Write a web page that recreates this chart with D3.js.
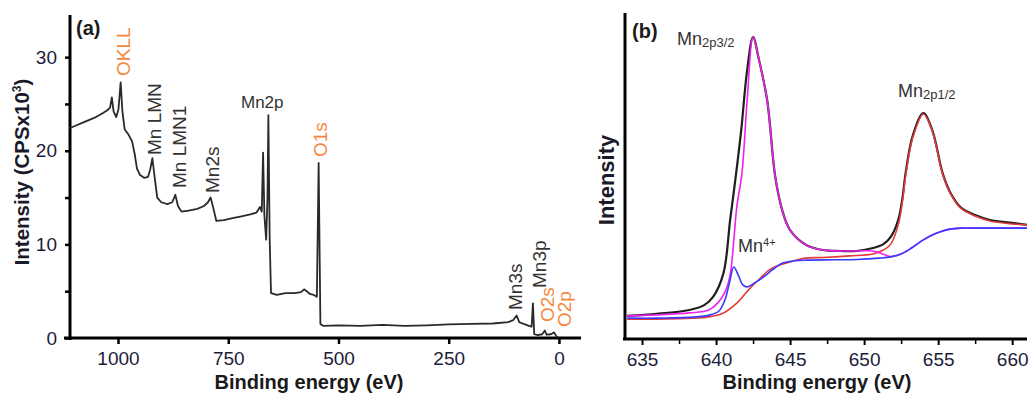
<!DOCTYPE html>
<html>
<head>
<meta charset="utf-8">
<script src="https://cdn.jsdelivr.net/npm/d3@7"></script>
<style>
  body { margin: 0; background: #fff; }
  svg { display: block; font-family: Arial, "Liberation Sans", sans-serif; }
  .axis path, .axis line { stroke: #000; }
  .axis text { fill: #1c1c3a; font-size: 19px; }
</style>
</head>
<body>
<div id="chart"></div>
<script>
// (a) survey spectrum: [binding energy eV, counts x10^3]
const survey = [
  [1110, 22.4], [1095, 22.7], [1080, 23.0], [1065, 23.3], [1050, 23.6], [1035, 24.0], [1025, 24.3],
  [1018, 24.6], [1014, 25.7], [1010, 24.2], [1004, 23.6], [999, 24.4], [994, 27.3], [990, 24.2],
  [985, 22.3], [976, 21.7], [968, 21.0], [962, 19.6], [957, 18.1], [950, 17.4], [940, 17.1],
  [932, 17.2], [927, 18.0], [922, 19.2], [917, 17.2], [911, 15.0], [902, 14.5], [888, 14.3],
  [877, 14.5], [870, 15.3], [864, 14.1], [856, 13.5], [840, 13.6], [820, 13.8], [805, 14.1],
  [796, 14.5], [790, 15.0], [784, 13.9], [777, 12.5], [760, 12.6], [740, 12.8], [720, 13.0],
  [700, 13.2], [686, 13.4], [678, 14.0], [674, 13.5], [671, 19.8], [668, 13.1], [664, 10.5],
  [661, 15.0], [659, 23.8], [656, 10.5], [653, 4.8], [640, 4.6], [620, 4.8], [600, 4.8],
  [585, 4.9], [578, 5.2], [572, 5.0], [565, 4.7], [556, 4.6], [549, 4.4], [545, 18.7],
  [541, 1.5], [535, 1.3], [500, 1.35], [450, 1.3], [400, 1.4], [350, 1.3], [300, 1.35],
  [250, 1.45], [200, 1.5], [150, 1.55], [115, 1.7], [104, 1.9], [96, 2.4], [90, 1.7],
  [80, 1.5], [68, 1.3], [62, 1.2], [59, 3.7], [56, 0.4], [48, 0.3], [38, 0.4], [32, 0.8],
  [28, 0.35], [18, 0.4], [11, 0.6], [6, 0.2], [2, 0.05]
];
const surveyXTicks = [1000, 750, 500, 250, 0];
const surveyYTicks = [0, 5, 10, 15, 20, 25, 30];

// (b) Mn 2p high resolution: [binding energy eV, intensity a.u.]
const envelope = [
  [634.0, 7.1], [636.0, 7.7], [638.2, 8.9], [639.2, 10.4], [639.8, 12.9], [640.5, 20.2],
  [640.95, 36.5], [641.3, 48.8], [641.7, 64.1], [642.1, 82.5], [642.5, 92.6], [642.9, 85.6],
  [643.45, 73.3], [644.0, 49.7], [644.5, 39.0], [645.0, 33.4], [646.1, 28.8], [647.2, 27.3],
  [648.4, 27.0], [649.5, 27.0], [650.6, 27.9], [651.3, 29.1], [651.8, 31.3], [652.3, 36.5],
  [652.6, 43.6], [652.8, 50.9], [653.3, 62.6], [654.0, 69.3], [654.6, 64.1], [655.3, 50.9],
  [655.8, 45.1], [656.5, 40.5], [657.5, 38.0], [658.5, 36.5], [660.0, 35.6], [661.0, 35.0]
];
const mn2p32 = [
  [634.0, 7.1], [636.0, 7.4], [638.2, 8.0], [639.5, 8.9], [640.1, 11.0], [640.6, 14.4],
  [640.95, 19.6], [641.2, 30.4], [641.4, 40.5], [641.75, 50.9], [642.1, 73.3], [642.5, 92.6],
  [642.9, 85.6], [643.45, 73.3], [644.0, 49.7], [644.5, 39.0], [645.0, 33.4], [646.1, 28.8],
  [647.2, 27.3], [648.4, 27.0], [649.5, 27.0], [650.6, 27.0], [651.3, 26.0], [651.8, 25.3],
  [652.5, 26.1], [653.2, 27.9], [654.0, 30.4], [654.6, 31.9], [655.1, 32.8], [655.8, 33.7],
  [656.5, 34.0], [658.0, 34.0], [661.0, 34.0]
];
const mn2p12 = [
  [634.0, 6.1], [636.0, 6.1], [638.5, 6.4], [639.4, 6.7], [640.5, 8.0], [641.4, 11.0],
  [642.3, 15.6], [643.0, 18.7], [643.6, 21.2], [644.3, 22.7], [645.0, 23.6], [646.0, 24.8],
  [647.2, 25.0], [649.0, 25.5], [650.6, 26.1], [651.3, 27.3], [651.8, 29.1], [652.3, 35.0],
  [652.6, 42.6], [652.8, 50.0], [653.3, 62.0], [654.0, 69.0], [654.6, 63.8], [655.3, 50.6],
  [655.8, 44.8], [656.5, 40.2], [657.5, 37.7], [658.5, 36.2], [660.0, 35.3], [661.0, 35.0]
];
const mn4 = [
  [634.0, 6.4], [636.0, 6.4], [638.5, 6.7], [639.6, 7.4], [640.2, 8.6], [640.6, 12.0],
  [640.9, 17.2], [641.2, 22.1], [641.5, 19.6], [641.8, 16.6], [642.1, 16.0], [642.6, 17.2],
  [643.2, 19.0], [643.8, 21.2], [644.5, 23.3], [645.3, 24.0], [646.1, 24.2], [648.0, 24.3],
  [649.5, 24.4], [651.0, 24.8], [651.8, 25.2], [652.5, 26.1], [653.2, 27.9], [654.0, 30.4],
  [654.6, 31.9], [655.1, 32.8], [655.8, 33.7], [656.5, 34.0], [658.0, 34.0], [661.0, 34.0]
];
const hrXTicks = [635, 640, 645, 650, 655, 660];
const hrXMinor = [637.5, 642.5, 647.5, 652.5, 657.5];

const width = 1035, height = 394;
const orange = "#f5883e", dark = "#333";

const svg = d3.select("#chart").append("svg")
              .attr("width", width)
              .attr("height", height);
svg.append("rect").attr("width", width).attr("height", height).attr("fill", "#fff");

// ---------- panel (a) ----------
const xA = d3.scaleLinear().domain([1110, -50]).range([69.5, 581]);
const yA = d3.scaleLinear().domain([0, 34.5]).range([338, 15]);

const axA = svg.append("g").attr("class", "axis")
               .attr("transform", "translate(0,338)")
               .call(d3.axisBottom(xA).tickValues(surveyXTicks).tickSize(6).tickSizeOuter(0)
                       .tickPadding(8).tickFormat(d3.format("d")));
axA.select(".domain").attr("stroke-width", 3).attr("d", "M64,0H581");
axA.selectAll(".tick line").attr("stroke-width", 2.5);

const ayA = svg.append("g").attr("class", "axis")
               .attr("transform", "translate(70,0)")
               .call(d3.axisLeft(yA).tickValues(surveyYTicks).tickSize(5).tickSizeOuter(0).tickPadding(8)
                       .tickFormat(d => d % 10 === 0 ? d : ""));
ayA.select(".domain").attr("stroke-width", 3).attr("d", "M0,15V340");
ayA.selectAll(".tick line").attr("stroke-width", 2.5);

const lineA = d3.line().x(d => xA(d[0])).y(d => yA(d[1])).curve(d3.curveLinear);
svg.append("path").datum(survey)
   .attr("d", lineA)
   .attr("fill", "none")
   .attr("stroke", "#2a2a2a")
   .attr("stroke-width", 1.8)
   .attr("stroke-linejoin", "round");

svg.append("text").attr("x", 309).attr("y", 389)
   .attr("text-anchor", "middle").attr("font-weight", "bold").attr("font-size", 20)
   .attr("fill", "#1a1a1a").text("Binding energy (eV)");

const ttlA = svg.append("text")
   .attr("transform", "translate(29,172) rotate(-90)")
   .attr("text-anchor", "middle").attr("font-weight", "bold").attr("font-size", 20.5)
   .attr("fill", "#1a1a2a");
ttlA.append("tspan").text("Intensity (CPSx10");
ttlA.append("tspan").attr("font-size", 12).attr("dy", -8).text("3");
ttlA.append("tspan").attr("dy", 8).text(")");

svg.append("text").attr("x", 76).attr("y", 35)
   .attr("font-weight", "bold").attr("font-size", 20).attr("fill", "#1a1a1a").text("(a)");

svg.append("text").attr("x", 241).attr("y", 108)
   .attr("font-size", 17).attr("fill", dark).text("Mn2p");

// rotated peak labels
const peakLabels = [
  ["OKLL", 130, 76, orange],
  ["Mn LMN", 161, 155, dark],
  ["Mn LMN1", 186, 188, dark],
  ["Mn2s", 219, 193, dark],
  ["O1s", 327, 157, orange],
  ["Mn3s", 522, 310, dark],
  ["Mn3p", 546, 288, dark],
  ["O2s", 554, 322, orange],
  ["O2p", 571, 327, orange]
];
svg.append("g").selectAll("text")
   .data(peakLabels)
   .join("text")
   .attr("transform", d => `translate(${d[1]},${d[2]}) rotate(-90)`)
   .attr("font-size", 19)
   .attr("fill", d => d[3])
   .text(d => d[0]);

// ---------- panel (b) ----------
const xB = d3.scaleLinear().domain([633.85, 661]).range([625, 1027]);
const yB = d3.scaleLinear().domain([0, 100]).range([339, 13]);

const axB = svg.append("g").attr("class", "axis")
               .attr("transform", "translate(0,339)")
               .call(d3.axisBottom(xB).tickValues(hrXTicks).tickSize(6).tickSizeOuter(0).tickPadding(8));
axB.select(".domain").attr("stroke-width", 3).attr("d", "M623,0H1027");
axB.selectAll(".tick line").attr("stroke-width", 2);

svg.append("g").attr("class", "axis")
   .attr("transform", "translate(0,339)")
   .call(d3.axisBottom(xB).tickValues(hrXMinor).tickSize(5).tickFormat(""))
   .call(g => g.select(".domain").remove())
   .selectAll(".tick line").attr("stroke-width", 1.5);

svg.append("line").attr("x1", 625).attr("x2", 625).attr("y1", 13).attr("y2", 340)
   .attr("stroke", "#000").attr("stroke-width", 3);

const lineB = d3.line().x(d => xB(d[0])).y(d => yB(d[1])).curve(d3.curveCatmullRom.alpha(0.5));
const hrSeries = [
  [envelope, "#1e1e1e", 2.2],
  [mn2p12, "#e23a3a", 1.6],
  [mn2p32, "#ee22ee", 1.6],
  [mn4, "#3a3aff", 1.6]
];
svg.append("g").selectAll("path")
   .data(hrSeries)
   .join("path")
   .attr("d", d => lineB(d[0]))
   .attr("fill", "none")
   .attr("stroke", d => d[1])
   .attr("stroke-width", d => d[2]);

svg.append("text").attr("x", 817).attr("y", 389)
   .attr("text-anchor", "middle").attr("font-weight", "bold").attr("font-size", 20)
   .attr("fill", "#1a1a1a").text("Binding energy (eV)");

svg.append("text").attr("transform", "translate(614,180) rotate(-90)")
   .attr("text-anchor", "middle").attr("font-weight", "bold").attr("font-size", 22)
   .attr("fill", "#1a1a2a").text("Intensity");

svg.append("text").attr("x", 632).attr("y", 38)
   .attr("font-weight", "bold").attr("font-size", 20).attr("fill", "#1a1a1a").text("(b)");

function subLabel(x, y, main, sub, shift) {
  const t = svg.append("text").attr("x", x).attr("y", y).attr("fill", dark).attr("font-size", 18);
  t.append("tspan").text(main);
  t.append("tspan").attr("font-size", shift < 0 ? 11 : 13).attr("dy", shift).text(sub);
}
subLabel(677, 45, "Mn", "2p3/2", 2);
subLabel(898, 97, "Mn", "2p1/2", 2);
subLabel(738, 252, "Mn", "4+", -6);
</script>
</body>
</html>
